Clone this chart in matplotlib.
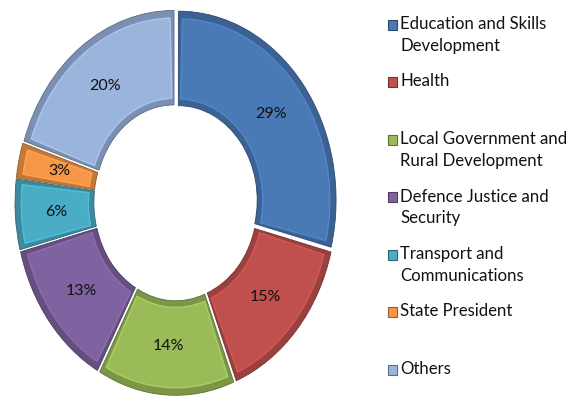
import matplotlib.pyplot as plt
from matplotlib import font_manager
from matplotlib.colors import to_rgb
from matplotlib.patches import Wedge
from matplotlib.textpath import TextPath
from matplotlib.font_manager import FontProperties

categories = [
    "Education and Skills\nDevelopment",
    "Health",
    "Local Government and\nRural Development",
    "Defence Justice and\nSecurity",
    "Transport and\nCommunications",
    "State President",
    "Others",
]
shares = [29, 15, 14, 13, 6, 3, 20]
colors = ["#4a7ab6", "#c0504d", "#9bbb59", "#7f62a0", "#4bacc6", "#f79646", "#9ab4dc"]

available = {f.name for f in font_manager.fontManager.ttflist}
FONT = "Lato" if "Lato" in available else "DejaVu Sans"
plt.rcParams["font.family"] = [FONT, "DejaVu Sans"]

# size legend text so the widest first line spans ~144 px like the original
probe = TextPath((0, 0), "Education and Skills", size=10, prop=FontProperties(family=FONT))
probe_w = probe.get_extents().width  # points at 10 pt
LEG_SIZE = min(13.0, 10 * (144 * 0.72) / probe_w)


def shade(c, k):
    return tuple(min(1, v * k) for v in to_rgb(c))


fig = plt.figure(figsize=(5.71, 4.05), dpi=100)
ax = fig.add_axes([0.018, 0.01, 0.58, 0.98])

wedges, texts, autotexts = ax.pie(
    shares,
    colors=[shade(c, 0.8) for c in colors],
    startangle=90,
    counterclock=False,
    explode=[0.02] * len(shares),
    radius=1.0,
    autopct=lambda p: f"{p:.0f}%",
    pctdistance=0.74,
    wedgeprops=dict(width=0.5, linewidth=0.6),
    textprops=dict(fontsize=11.5, color="#111111", zorder=5),
)

# inset face on each wedge to mimic the bevelled rim
for w, c in zip(wedges, colors):
    w.set_edgecolor(shade(c, 0.6))
    t1, t2 = w.theta1, w.theta2
    pad = 1.5
    inner = Wedge(w.center, w.r - 0.04, t1 + pad, t2 - pad, width=w.width - 0.075,
                  facecolor=c, edgecolor=shade(c, 1.1), linewidth=1.0, zorder=3)
    ax.add_patch(inner)

ax.set_aspect("auto")
ax.set_xlim(-1.05, 1.05)
ax.set_ylim(-1.05, 1.05)
ax.axis("off")

# legend laid out in fixed slots like the original
W, H = 571, 405
for i, (lab, c) in enumerate(zip(categories, colors)):
    y = 24.5 + i * 57.5
    fig.patches.append(plt.Rectangle((388 / W, 1 - (y + 5) / H), 9 / W, 10 / H,
                                     transform=fig.transFigure, facecolor=c,
                                     edgecolor=shade(c, 0.6), linewidth=0.8))
    fig.text(400 / W, 1 - (y - 8.5) / H, lab, fontsize=LEG_SIZE, va="top", ha="left",
             linespacing=1.45, color="#111111")

fig.savefig("out.png", dpi=100)
